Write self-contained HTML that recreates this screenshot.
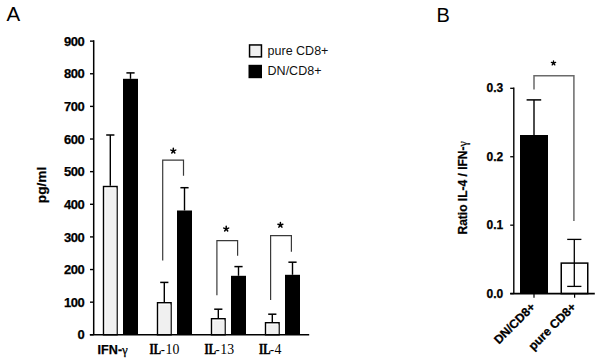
<!DOCTYPE html><html><head><meta charset="utf-8"><style>html,body{margin:0;padding:0;background:#fff;width:600px;height:361px;overflow:hidden}svg{display:block}</style></head><body>
<svg width="600" height="361" viewBox="0 0 600 361">
<style>.h{stroke:#000;stroke-width:0.25px}</style>
<text x="6.5" y="21" style="font-family:'Liberation Sans',sans-serif;font-size:20.5px" fill="#000">A</text>
<text x="436.5" y="22.3" style="font-family:'Liberation Sans',sans-serif;font-size:20px" fill="#000">B</text>
<line x1="93.7" y1="40.3" x2="93.7" y2="334.8" stroke="#000" stroke-width="1.5"/>
<line x1="90" y1="334.80" x2="93.7" y2="334.80" stroke="#000" stroke-width="1.4"/>
<text x="84.8" y="339.40" text-anchor="end" class="h" style="font-family:'Liberation Sans',sans-serif;font-size:13px;font-weight:bold" fill="#000">0</text>
<line x1="90" y1="302.17" x2="93.7" y2="302.17" stroke="#000" stroke-width="1.4"/>
<text x="84.8" y="306.77" text-anchor="end" textLength="20.9" lengthAdjust="spacing" class="h" style="font-family:'Liberation Sans',sans-serif;font-size:13px;font-weight:bold" fill="#000">100</text>
<line x1="90" y1="269.54" x2="93.7" y2="269.54" stroke="#000" stroke-width="1.4"/>
<text x="84.8" y="274.14" text-anchor="end" textLength="20.9" lengthAdjust="spacing" class="h" style="font-family:'Liberation Sans',sans-serif;font-size:13px;font-weight:bold" fill="#000">200</text>
<line x1="90" y1="236.91" x2="93.7" y2="236.91" stroke="#000" stroke-width="1.4"/>
<text x="84.8" y="241.51" text-anchor="end" textLength="20.9" lengthAdjust="spacing" class="h" style="font-family:'Liberation Sans',sans-serif;font-size:13px;font-weight:bold" fill="#000">300</text>
<line x1="90" y1="204.28" x2="93.7" y2="204.28" stroke="#000" stroke-width="1.4"/>
<text x="84.8" y="208.88" text-anchor="end" textLength="20.9" lengthAdjust="spacing" class="h" style="font-family:'Liberation Sans',sans-serif;font-size:13px;font-weight:bold" fill="#000">400</text>
<line x1="90" y1="171.65" x2="93.7" y2="171.65" stroke="#000" stroke-width="1.4"/>
<text x="84.8" y="176.25" text-anchor="end" textLength="20.9" lengthAdjust="spacing" class="h" style="font-family:'Liberation Sans',sans-serif;font-size:13px;font-weight:bold" fill="#000">500</text>
<line x1="90" y1="139.02" x2="93.7" y2="139.02" stroke="#000" stroke-width="1.4"/>
<text x="84.8" y="143.62" text-anchor="end" textLength="20.9" lengthAdjust="spacing" class="h" style="font-family:'Liberation Sans',sans-serif;font-size:13px;font-weight:bold" fill="#000">600</text>
<line x1="90" y1="106.39" x2="93.7" y2="106.39" stroke="#000" stroke-width="1.4"/>
<text x="84.8" y="110.99" text-anchor="end" textLength="20.9" lengthAdjust="spacing" class="h" style="font-family:'Liberation Sans',sans-serif;font-size:13px;font-weight:bold" fill="#000">700</text>
<line x1="90" y1="73.76" x2="93.7" y2="73.76" stroke="#000" stroke-width="1.4"/>
<text x="84.8" y="78.36" text-anchor="end" textLength="20.9" lengthAdjust="spacing" class="h" style="font-family:'Liberation Sans',sans-serif;font-size:13px;font-weight:bold" fill="#000">800</text>
<line x1="90" y1="41.13" x2="93.7" y2="41.13" stroke="#000" stroke-width="1.4"/>
<text x="84.8" y="45.73" text-anchor="end" textLength="20.9" lengthAdjust="spacing" class="h" style="font-family:'Liberation Sans',sans-serif;font-size:13px;font-weight:bold" fill="#000">900</text>
<text transform="translate(46,203.2) rotate(-90)" class="h" style="font-family:'Liberation Sans',sans-serif;font-size:13.7px;font-weight:bold" fill="#000">pg/ml</text>
<line x1="110.3" y1="135.0" x2="110.3" y2="185.8" stroke="#000" stroke-width="1.4"/>
<line x1="106.2" y1="135.0" x2="114.39999999999999" y2="135.0" stroke="#000" stroke-width="1.5"/>
<line x1="130.5" y1="72.9" x2="130.5" y2="78.8" stroke="#000" stroke-width="1.4"/>
<line x1="126.4" y1="72.9" x2="134.6" y2="72.9" stroke="#000" stroke-width="1.5"/>
<rect x="103.5" y="186.5" width="13.6" height="148.3" fill="#fff" stroke="#000" stroke-width="1.4"/>
<rect x="105.39999999999999" y="188.4" width="11.0" height="146.4" fill="#f0f0f0"/>
<rect x="123" y="78.8" width="15" height="256.0" fill="#000"/>
<line x1="164.3" y1="282.4" x2="164.3" y2="302.0" stroke="#000" stroke-width="1.4"/>
<line x1="160.20000000000002" y1="282.4" x2="168.4" y2="282.4" stroke="#000" stroke-width="1.5"/>
<line x1="184.5" y1="187.7" x2="184.5" y2="210.5" stroke="#000" stroke-width="1.4"/>
<line x1="180.4" y1="187.7" x2="188.6" y2="187.7" stroke="#000" stroke-width="1.5"/>
<rect x="157.5" y="302.7" width="13.6" height="32.10000000000001" fill="#fff" stroke="#000" stroke-width="1.4"/>
<rect x="159.4" y="304.6" width="11.0" height="30.20000000000001" fill="#f0f0f0"/>
<rect x="177" y="210.5" width="15" height="124.30000000000001" fill="#000"/>
<line x1="218.3" y1="309.2" x2="218.3" y2="318.0" stroke="#000" stroke-width="1.4"/>
<line x1="214.20000000000002" y1="309.2" x2="222.4" y2="309.2" stroke="#000" stroke-width="1.5"/>
<line x1="238.5" y1="266.6" x2="238.5" y2="275.8" stroke="#000" stroke-width="1.4"/>
<line x1="234.4" y1="266.6" x2="242.6" y2="266.6" stroke="#000" stroke-width="1.5"/>
<rect x="211.5" y="318.7" width="13.6" height="16.100000000000012" fill="#fff" stroke="#000" stroke-width="1.4"/>
<rect x="213.4" y="320.6" width="11.0" height="14.200000000000012" fill="#f0f0f0"/>
<rect x="231" y="275.8" width="15" height="59.0" fill="#000"/>
<line x1="272.3" y1="314.2" x2="272.3" y2="322.0" stroke="#000" stroke-width="1.4"/>
<line x1="268.2" y1="314.2" x2="276.40000000000003" y2="314.2" stroke="#000" stroke-width="1.5"/>
<line x1="292.5" y1="262.2" x2="292.5" y2="274.8" stroke="#000" stroke-width="1.4"/>
<line x1="288.4" y1="262.2" x2="296.6" y2="262.2" stroke="#000" stroke-width="1.5"/>
<rect x="265.5" y="322.7" width="13.6" height="12.100000000000012" fill="#fff" stroke="#000" stroke-width="1.4"/>
<rect x="267.40000000000003" y="324.6" width="11.0" height="10.200000000000012" fill="#f0f0f0"/>
<rect x="285" y="274.8" width="15" height="60.0" fill="#000"/>
<line x1="89.8" y1="334.8" x2="309.2" y2="334.8" stroke="#000" stroke-width="1.6"/>
<polyline points="162.7,260.5 162.7,160.2 183.5,160.2 183.5,175.8" fill="none" stroke="#3a3a3a" stroke-width="1.2"/>
<polyline points="216.9,295.2 216.9,240.6 237.6,240.6 237.6,255.8" fill="none" stroke="#3a3a3a" stroke-width="1.2"/>
<polyline points="270.6,300.0 270.6,235.6 291.4,235.6 291.4,251.8" fill="none" stroke="#3a3a3a" stroke-width="1.2"/>
<path d="M173.30 150.90L173.30 148.30M173.30 150.90L175.77 150.10M173.30 150.90L174.83 153.00M173.30 150.90L171.77 153.00M173.30 150.90L170.83 150.10" stroke="#000" stroke-width="1.5" stroke-linecap="round" fill="none"/>
<path d="M226.20 228.90L226.20 226.30M226.20 228.90L228.67 228.10M226.20 228.90L227.73 231.00M226.20 228.90L224.67 231.00M226.20 228.90L223.73 228.10" stroke="#000" stroke-width="1.5" stroke-linecap="round" fill="none"/>
<path d="M280.40 225.00L280.40 222.40M280.40 225.00L282.87 224.20M280.40 225.00L281.93 227.10M280.40 225.00L278.87 227.10M280.40 225.00L277.93 224.20" stroke="#000" stroke-width="1.5" stroke-linecap="round" fill="none"/>
<text x="97.6" y="354" class="h" style="font-family:'Liberation Sans',sans-serif;font-size:12.6px;font-weight:bold" fill="#000">IFN-<tspan style="font-family:'Liberation Serif',serif;font-weight:normal;font-size:13px">γ</tspan></text>
<text x="149.6" y="354.3" style="font-family:'Liberation Serif',serif;font-size:13.6px;font-weight:bold" fill="#000" stroke="#000" stroke-width="0.45" textLength="11.5" lengthAdjust="spacingAndGlyphs">IL</text>
<text x="160.79999999999998" y="354.1" style="font-family:'Liberation Serif',serif;font-size:12.5px;font-weight:bold" fill="#000">-</text>
<text x="165.6" y="354.3" style="font-family:'Liberation Serif',serif;font-size:13.8px" fill="#000">10</text>
<text x="204.4" y="354.3" style="font-family:'Liberation Serif',serif;font-size:13.6px;font-weight:bold" fill="#000" stroke="#000" stroke-width="0.45" textLength="11.5" lengthAdjust="spacingAndGlyphs">IL</text>
<text x="215.6" y="354.1" style="font-family:'Liberation Serif',serif;font-size:12.5px;font-weight:bold" fill="#000">-</text>
<text x="220.3" y="354.3" style="font-family:'Liberation Serif',serif;font-size:13.8px" fill="#000">13</text>
<text x="258.9" y="354.3" style="font-family:'Liberation Serif',serif;font-size:13.6px;font-weight:bold" fill="#000" stroke="#000" stroke-width="0.45" textLength="11.5" lengthAdjust="spacingAndGlyphs">IL</text>
<text x="270.09999999999997" y="354.1" style="font-family:'Liberation Serif',serif;font-size:12.5px;font-weight:bold" fill="#000">-</text>
<text x="274.5" y="354.3" style="font-family:'Liberation Serif',serif;font-size:13.8px" fill="#000">4</text>
<rect x="249.55" y="44.95" width="11.9" height="11.9" fill="#f0f0f0" stroke="#000" stroke-width="1.5"/>
<rect x="248.5" y="64.8" width="13.5" height="13.4" fill="#000"/>
<text x="267.6" y="55" style="font-family:'Liberation Sans',sans-serif;font-size:12.5px" fill="#111">pure CD8+</text>
<text x="267.6" y="74.8" style="font-family:'Liberation Sans',sans-serif;font-size:12.5px" fill="#111">DN/CD8+</text>
<line x1="513.8" y1="87.6" x2="513.8" y2="293.6" stroke="#000" stroke-width="1.4"/>
<line x1="510.2" y1="293.60" x2="513.8" y2="293.60" stroke="#000" stroke-width="1.3"/>
<text x="503.2" y="297.70" text-anchor="end" class="h" style="font-family:'Liberation Sans',sans-serif;font-size:12px;font-weight:bold" fill="#000">0.0</text>
<line x1="510.2" y1="225.17" x2="513.8" y2="225.17" stroke="#000" stroke-width="1.3"/>
<text x="503.2" y="229.27" text-anchor="end" class="h" style="font-family:'Liberation Sans',sans-serif;font-size:12px;font-weight:bold" fill="#000">0.1</text>
<line x1="510.2" y1="156.74" x2="513.8" y2="156.74" stroke="#000" stroke-width="1.3"/>
<text x="503.2" y="160.84" text-anchor="end" class="h" style="font-family:'Liberation Sans',sans-serif;font-size:12px;font-weight:bold" fill="#000">0.2</text>
<line x1="510.2" y1="88.31" x2="513.8" y2="88.31" stroke="#000" stroke-width="1.3"/>
<text x="503.2" y="92.41" text-anchor="end" class="h" style="font-family:'Liberation Sans',sans-serif;font-size:12px;font-weight:bold" fill="#000">0.3</text>
<line x1="534" y1="99.9" x2="534" y2="135" stroke="#000" stroke-width="1.4"/>
<line x1="526.6" y1="99.9" x2="541.2" y2="99.9" stroke="#000" stroke-width="1.5"/>
<rect x="520" y="135" width="28" height="158.60000000000002" fill="#000"/>
<rect x="561.25" y="263.1" width="26.5" height="30.5" fill="#fff" stroke="#000" stroke-width="1.5"/>
<line x1="574.3" y1="239.4" x2="574.3" y2="286.4" stroke="#000" stroke-width="1.3"/>
<line x1="567.2" y1="239.4" x2="581.4" y2="239.4" stroke="#000" stroke-width="1.3"/>
<line x1="567.2" y1="286.4" x2="581.4" y2="286.4" stroke="#000" stroke-width="1.3"/>
<line x1="510.2" y1="293.6" x2="594.8" y2="293.6" stroke="#000" stroke-width="1.6"/>
<line x1="534" y1="293.6" x2="534" y2="297.8" stroke="#000" stroke-width="1.2"/>
<line x1="574.6" y1="293.6" x2="574.6" y2="297.8" stroke="#000" stroke-width="1.2"/>
<polyline points="534,89.5 534,75.7 573.9,75.7 573.9,221" fill="none" stroke="#6a6a6a" stroke-width="1.5"/>
<path d="M553.50 63.10L553.50 60.90M553.50 63.10L555.59 62.42M553.50 63.10L554.79 64.88M553.50 63.10L552.21 64.88M553.50 63.10L551.41 62.42" stroke="#000" stroke-width="1.4" stroke-linecap="round" fill="none"/>
<text transform="translate(466.9,234.5) rotate(-90)" class="h" style="font-family:'Liberation Sans',sans-serif;font-size:12px;font-weight:bold" fill="#000">Ratio IL-4 / IFN-<tspan style="font-family:'Liberation Serif',serif;font-weight:normal">γ</tspan></text>
<text transform="translate(536,307.6) rotate(-45)" text-anchor="end" class="h" style="font-family:'Liberation Sans',sans-serif;font-size:12.2px;font-weight:bold" fill="#000">DN/CD8+</text>
<text transform="translate(576.8,307.6) rotate(-45)" text-anchor="end" class="h" style="font-family:'Liberation Sans',sans-serif;font-size:12.2px;font-weight:bold" fill="#000">pure CD8+</text>
</svg></body></html>
